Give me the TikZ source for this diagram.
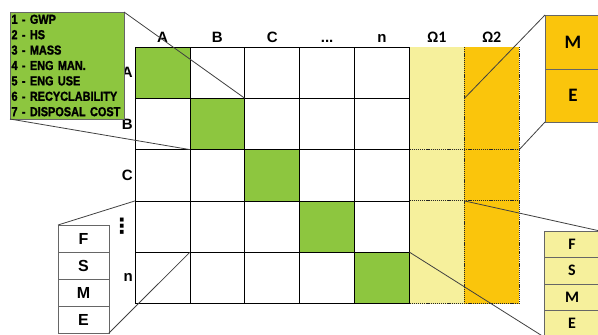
\documentclass[tikz,border=0pt]{standalone}
\usepackage{fontspec}
\setmainfont{Liberation Sans}
\newfontfamily\calfont{Carlito}
\newfontfamily\symfont{DejaVu Sans}
\newfontfamily\legfont{Liberation Sans}[FakeStretch=0.84,BoldFeatures={FakeBold=1.5}]
\definecolor{cellgreen}{RGB}{141,198,63}
\definecolor{paleyellow}{RGB}{246,240,156}
\definecolor{amber}{RGB}{250,197,12}

\begin{document}
\begin{tikzpicture}[x=1pt,y=-1pt,
  cell/.style={minimum width=54.9pt,minimum height=51.3pt,inner sep=0pt,outer sep=0pt,anchor=north west},
  gridcell/.style={cell,draw=black,line width=.8pt},
  dotline/.style={black!85,line width=.9pt,dash pattern=on 1.2pt off .9pt},
  zoomline/.style={black!75,line width=.8pt},
  zoombox/.style={draw=black!60,line width=.9pt,inner sep=0pt,outer sep=0pt,anchor=north west},
  lbl/.style={font=\fontsize{15}{15}\selectfont\bfseries,inner sep=0pt},
  omlbl/.style={font=\calfont\fontsize{16}{16}\selectfont\bfseries,inner sep=0pt}]
  \useasboundingbox (0,0) rectangle (598,335);
  \clip (0,0) rectangle (598,335);

  \foreach \r in {0,...,4} {
    \node[cell,fill=paleyellow] (m-\r-5) at (409.5,{47+\r*51.3}) {};
    \node[cell,fill=amber] (m-\r-6) at (464.4,{47+\r*51.3}) {};
    \foreach \c in {0,...,4}
      \node[gridcell] (m-\r-\c) at ({135+\c*54.9},{47+\r*51.3}) {};
    \node[gridcell,fill=cellgreen] at (m-\r-\r.north west) {};
    \draw[dotline] (m-\r-5.south west) -- (m-\r-6.south east);
  }
  \draw[dotline] (m-0-5.north east) -- (m-4-5.south east);
  \draw[dotline] (m-0-6.north east) -- (m-4-6.south east);

  \node[lbl,above=4.5pt] (hA) at (m-0-0.north) {A};
  \node[lbl,above=4.5pt] (hB) at (m-0-1.north) {B};
  \node[lbl,above=4.5pt] (hC) at (m-0-2.north) {C};
  \node[lbl,above=4.5pt] (hD) at (m-0-3.north) {...};
  \node[lbl,above=4.5pt] (hN) at (m-0-4.north) {n};
  \node[omlbl,above=4.5pt] (hO1) at (m-0-5.north) {Ω1};
  \node[omlbl,above=4.5pt] (hO2) at (m-0-6.north) {Ω2};

  \node[lbl,left=2pt] (rA) at (m-0-0.west) {A};
  \node[lbl,left=2pt] (rB) at (m-1-0.west) {B};
  \node[lbl,left=2pt] (rC) at (m-2-0.west) {C};
  \node[lbl,left=2.5pt,font=\symfont\fontsize{21}{21}\selectfont\bfseries] (rD) at (m-3-0.west) {⋮};
  \node[lbl,left=2pt] (rN) at (m-4-0.west) {n};

  \node[zoombox,fill=cellgreen,minimum height=107pt,text width=111pt,inner xsep=1.5pt,align=left,
    font=\legfont\fontsize{13}{15.4}\selectfont\bfseries] (legend) at (10,12)
    {1 - GWP\\2 - HS\\3 - MASS\\4 - ENG MAN.\\5 - ENG USE\\6 - RECYCLABILITY\\7 - DISPOSAL COST};

  \node[zoombox,fill=amber,minimum width=56pt,minimum height=54pt,
    font=\calfont\fontsize{19}{19}\selectfont\bfseries] (zm) at (545,15) {M};
  \node[zoombox,fill=amber,minimum width=56pt,minimum height=53pt,
    font=\calfont\fontsize{19}{19}\selectfont\bfseries] (ze) at (zm.south west) {E};

  \node[zoombox,fill=white,minimum width=51pt,minimum height=27pt,font=\fontsize{16}{16}\selectfont\bfseries] (bf) at (58,225) {F};
  \node[zoombox,fill=white,minimum width=51pt,minimum height=27pt,font=\fontsize{16}{16}\selectfont\bfseries] (bs) at (bf.south west) {S};
  \node[zoombox,fill=white,minimum width=51pt,minimum height=27pt,font=\fontsize{16}{16}\selectfont\bfseries] (bm) at (bs.south west) {M};
  \node[zoombox,fill=white,minimum width=51pt,minimum height=27pt,font=\fontsize{16}{16}\selectfont\bfseries] (be) at (bm.south west) {E};

  \node[zoombox,fill=paleyellow,minimum width=56pt,minimum height=26.5pt,font=\calfont\fontsize{16}{16}\selectfont\bfseries] (yf) at (544,231) {F};
  \node[zoombox,fill=paleyellow,minimum width=56pt,minimum height=26.5pt,font=\calfont\fontsize{16}{16}\selectfont\bfseries] (ys) at (yf.south west) {S};
  \node[zoombox,fill=paleyellow,minimum width=56pt,minimum height=26.5pt,font=\calfont\fontsize{16}{16}\selectfont\bfseries] (ym) at (ys.south west) {M};
  \node[zoombox,fill=paleyellow,minimum width=56pt,minimum height=26.5pt,font=\calfont\fontsize{16}{16}\selectfont\bfseries] (ye) at (ym.south west) {E};

  \draw[zoomline] (legend.north east) -- (m-1-1.north east);
  \draw[zoomline] (legend.south west) -- (m-1-1.south west);
  \draw[zoomline] (m-1-6.north west) -- (zm.north west);
  \draw[zoomline] (m-1-6.south east) -- (ze.south west);
  \draw[zoomline] (m-3-0.north west) -- (bf.north west);
  \draw[zoomline] (m-3-0.south east) -- (be.south east);
  \draw[zoomline] (m-3-5.north east) -- (yf.north east);
  \draw[zoomline] (m-3-5.south west) -- (ye.south west);
\end{tikzpicture}
\end{document}
